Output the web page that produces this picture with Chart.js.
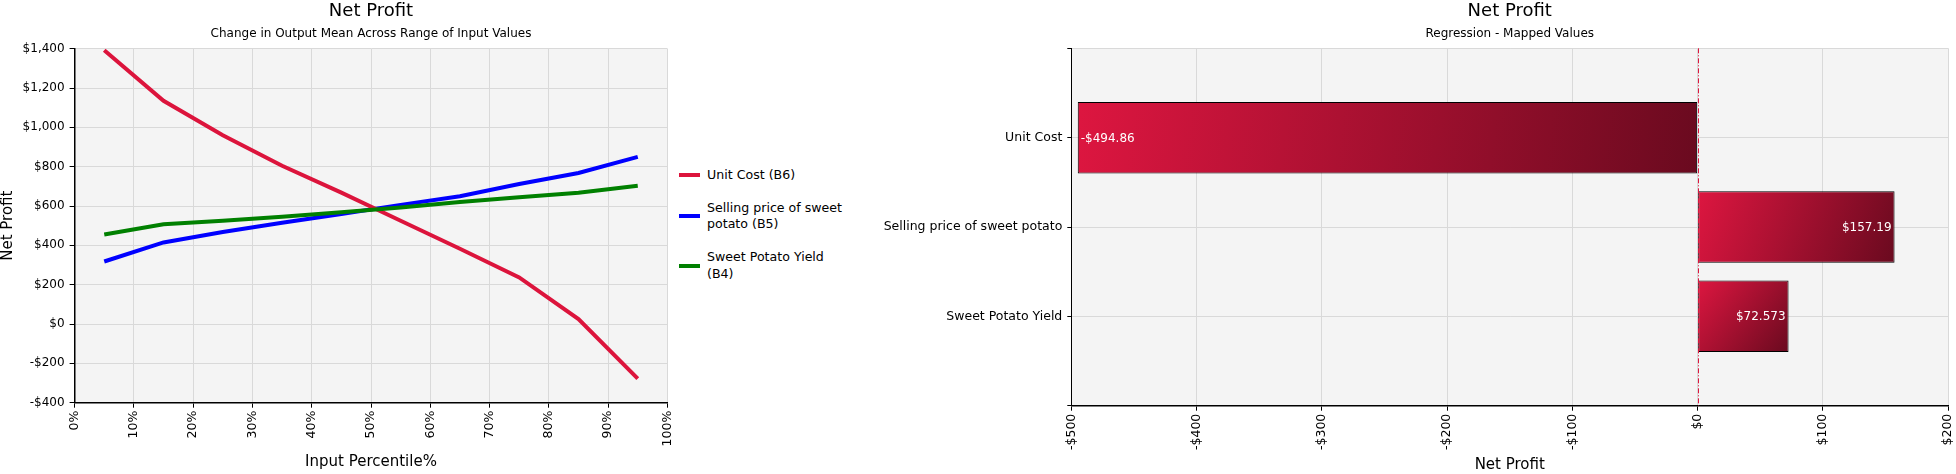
<!DOCTYPE html>
<html><head><meta charset="utf-8">
<script src="https://cdn.jsdelivr.net/npm/chart.js@4.4.1/dist/chart.umd.min.js"></script>
<style>
html,body{margin:0;padding:0;background:#fff;width:1956px;height:474px;overflow:hidden;font-family:"DejaVu Sans",sans-serif;}
#left{position:absolute;left:0;top:0;width:678px;height:474px;}
#right{position:absolute;left:880px;top:0;width:1076px;height:474px;}
#legend{position:absolute;left:679px;top:167px;display:flex;flex-direction:column;gap:16px;font-size:12.6px;line-height:16.7px;color:#000;}
.item{display:flex;align-items:center;}
.swatch{width:21px;height:4px;margin-right:7px;flex:none;}
.lbl{max-width:142px;}
</style></head><body>
<div id="left"><canvas id="c1"></canvas></div>
<div id="legend"></div>
<div id="right"><canvas id="c2"></canvas></div>
<script>
// ---- data ----
const percentiles = [5, 15, 25, 35, 45, 55, 65, 75, 85, 95];
const unitCost = [1392, 1135, 960, 805, 668, 525, 383, 237, 25, -278];
const sellingPrice = [318, 415, 468, 515, 560, 606, 650, 712, 768, 850];
const potatoYield = [455, 507, 525, 545, 568, 592, 620, 645, 668, 703];
const seriesNames = ['Unit Cost (B6)', 'Selling price of sweet potato (B5)', 'Sweet Potato Yield (B4)'];
const seriesColors = ['#dc143c', '#0000ff', '#008000'];
const percentTicks = [0, 10, 20, 30, 40, 50, 60, 70, 80, 90, 100];
const profitTicks = [-400, -200, 0, 200, 400, 600, 800, 1000, 1200, 1400];

const regCategories = ['Unit Cost', 'Selling price of sweet potato', 'Sweet Potato Yield'];
const regValues = [-494.86, 157.19, 72.573];
const regTicks = [-500, -400, -300, -200, -100, 0, 100, 200];

// ---- helpers ----
Chart.defaults.font.family = '"DejaVu Sans", sans-serif';
Chart.defaults.color = '#000';
const money = v => (v < 0 ? '-$' : '$') + Math.abs(v).toLocaleString('en-US');
const moneyVal = v => (v < 0 ? '-$' : '$') + Math.abs(v).toPrecision(5);

const plotBg = {
  id: 'plotBg',
  beforeDraw(chart) {
    const {ctx, chartArea: a} = chart;
    ctx.save(); ctx.fillStyle = '#f4f4f4';
    ctx.fillRect(a.left, a.top, a.right - a.left, a.bottom - a.top);
    ctx.restore();
  }
};
const noXPad = s => { s.paddingLeft = 0; s.paddingRight = 0; };
const noYPad = s => { s.paddingTop = 0; s.paddingBottom = 0; };

// ---- legend (HTML) ----
const leg = document.getElementById('legend');
seriesNames.forEach((n, i) => {
  const it = document.createElement('div'); it.className = 'item';
  const sw = document.createElement('div'); sw.className = 'swatch'; sw.style.background = seriesColors[i];
  const lb = document.createElement('div'); lb.className = 'lbl'; lb.textContent = n;
  it.appendChild(sw); it.appendChild(lb); leg.appendChild(it);
});

// ---- left chart ----
const seriesData = [unitCost, sellingPrice, potatoYield];
new Chart(document.getElementById('c1'), {
  type: 'line',
  data: {
    datasets: seriesData.map((arr, i) => ({
      label: seriesNames[i],
      data: percentiles.map((p, j) => ({x: p, y: arr[j]})),
      borderColor: seriesColors[i],
      backgroundColor: seriesColors[i],
      borderWidth: 4,
      pointRadius: 0,
      tension: 0,
      order: [1, 2, 0][i]
    }))
  },
  options: {
    responsive: true, maintainAspectRatio: false, animation: false, devicePixelRatio: 1,
    layout: {padding: {left: 0, right: 10.6, top: 0, bottom: 0}},
    plugins: {
      legend: {display: false},
      tooltip: {enabled: false},
      title: {display: true, text: 'Net Profit', fullSize: false, color: '#000',
        font: {size: 18, weight: 'normal', lineHeight: 1.1}, padding: {top: 1.5, bottom: 0}},
      subtitle: {display: true, text: 'Change in Output Mean Across Range of Input Values', fullSize: false, color: '#000',
        font: {size: 12, weight: 'normal', lineHeight: 1.2}, padding: {top: 5, bottom: 8}}
    },
    scales: {
      x: {
        type: 'linear', min: percentTicks[0], max: percentTicks[percentTicks.length - 1],
        afterBuildTicks: s => { s.ticks = percentTicks.map(v => ({value: v})); },
        ticks: {callback: v => v + '%', maxRotation: 90, minRotation: 90, padding: 3, color: '#000', font: {size: 12.5}},
        grid: {color: '#d9d9d9', tickColor: '#000', tickLength: 5},
        border: {color: '#000', width: 1.5},
        title: {display: true, text: 'Input Percentile%', color: '#000', font: {size: 15}, padding: {top: 0, bottom: 3.3}},
        afterFit: s => { s.height = 71.3; noXPad(s); }
      },
      y: {
        type: 'linear', min: profitTicks[0], max: profitTicks[profitTicks.length - 1],
        afterBuildTicks: s => { s.ticks = profitTicks.map(v => ({value: v})); },
        ticks: {callback: v => money(v), padding: 5, color: '#000', font: {size: 12}},
        grid: {color: '#d9d9d9', tickColor: '#000', tickLength: 5},
        border: {color: '#000', width: 1.5},
        title: {display: true, text: 'Net Profit', color: '#000', font: {size: 15}, padding: {top: -1, bottom: 0}},
        afterFit: s => { s.width = 74.6; noYPad(s); }
      }
    }
  },
  plugins: [plotBg]
});

// ---- right chart ----
const zeroLine = {
  id: 'zeroLine',
  afterDatasetsDraw(chart) {
    const {ctx, chartArea: a, scales: {x}} = chart;
    const px = Math.round(x.getPixelForValue(0)) + 0.5;
    ctx.save(); ctx.strokeStyle = '#dc143c'; ctx.lineWidth = 1; ctx.setLineDash([5, 2, 1, 2]);
    ctx.beginPath(); ctx.moveTo(px, a.top); ctx.lineTo(px, a.bottom); ctx.stroke(); ctx.restore();
  }
};
const barLabels = {
  id: 'barLabels',
  afterDatasetsDraw(chart) {
    const {ctx} = chart;
    const meta = chart.getDatasetMeta(0);
    const vals = chart.data.datasets[0].data;
    ctx.save(); ctx.fillStyle = '#fff'; ctx.font = '12px "DejaVu Sans", sans-serif'; ctx.textBaseline = 'middle';
    meta.data.forEach((bar, i) => {
      const v = vals[i]; if (v == null) return;
      if (v >= 0) { ctx.textAlign = 'right'; ctx.fillText(moneyVal(v), bar.x - 3, bar.y + 1); }
      else { ctx.textAlign = 'left'; ctx.fillText(moneyVal(v), bar.x + 3, bar.y + 1); }
    });
    ctx.restore();
  }
};

new Chart(document.getElementById('c2'), {
  type: 'bar',
  data: {
    labels: ['', ...regCategories, ''],
    datasets: [{
      data: [null, ...regValues, null],
      backgroundColor: (c) => {
        const chart = c.chart;
        if (!chart.chartArea || c.type !== 'data' || c.raw == null) return '#b0102e';
        const xs = chart.scales.x, ys = chart.scales.y;
        const x0 = xs.getPixelForValue(0), x1 = xs.getPixelForValue(c.raw);
        const yc = ys.getPixelForValue(c.dataIndex);
        const g = chart.ctx.createLinearGradient(Math.min(x0, x1), yc - 36, Math.max(x0, x1), yc + 36);
        g.addColorStop(0, '#dd1640'); g.addColorStop(1, '#6a0a1f');
        return g;
      },
      borderColor: '#000', borderWidth: 1, borderSkipped: false,
      barPercentage: 1, categoryPercentage: 0.8
    }]
  },
  options: {
    indexAxis: 'y',
    responsive: true, maintainAspectRatio: false, animation: false, devicePixelRatio: 1,
    layout: {padding: {left: 0, right: 7.8, top: 0, bottom: 0}},
    plugins: {
      legend: {display: false},
      tooltip: {enabled: false},
      title: {display: true, text: 'Net Profit', fullSize: false, color: '#000',
        font: {size: 18, weight: 'normal', lineHeight: 1.1}, padding: {top: 1.5, bottom: 0}},
      subtitle: {display: true, text: 'Regression - Mapped Values', fullSize: false, color: '#000',
        font: {size: 12, weight: 'normal', lineHeight: 1.2}, padding: {top: 5, bottom: 7.6}}
    },
    scales: {
      x: {
        type: 'linear', min: regTicks[0], max: regTicks[regTicks.length - 1],
        afterBuildTicks: s => { s.ticks = regTicks.map(v => ({value: v})); },
        ticks: {callback: v => money(v), maxRotation: 90, minRotation: 90, padding: 3, color: '#000', font: {size: 12.5}},
        grid: {color: '#d9d9d9', tickColor: '#000', tickLength: 5},
        border: {color: '#000', width: 1.5},
        title: {display: true, text: 'Net Profit', color: '#000', font: {size: 15}, padding: {top: 0, bottom: 0}},
        afterFit: s => { s.height = 68.3; noXPad(s); }
      },
      y: {
        type: 'category', offset: false,
        ticks: {autoSkip: false, padding: 5, color: '#000', font: {size: 12.5}},
        grid: {offset: false, color: '#d9d9d9', tickColor: '#000', tickLength: 4},
        border: {color: '#000', width: 1},
        afterFit: s => { s.width = 191.3; noYPad(s); }
      }
    }
  },
  plugins: [plotBg, zeroLine, barLabels]
});
</script>
</body></html>
